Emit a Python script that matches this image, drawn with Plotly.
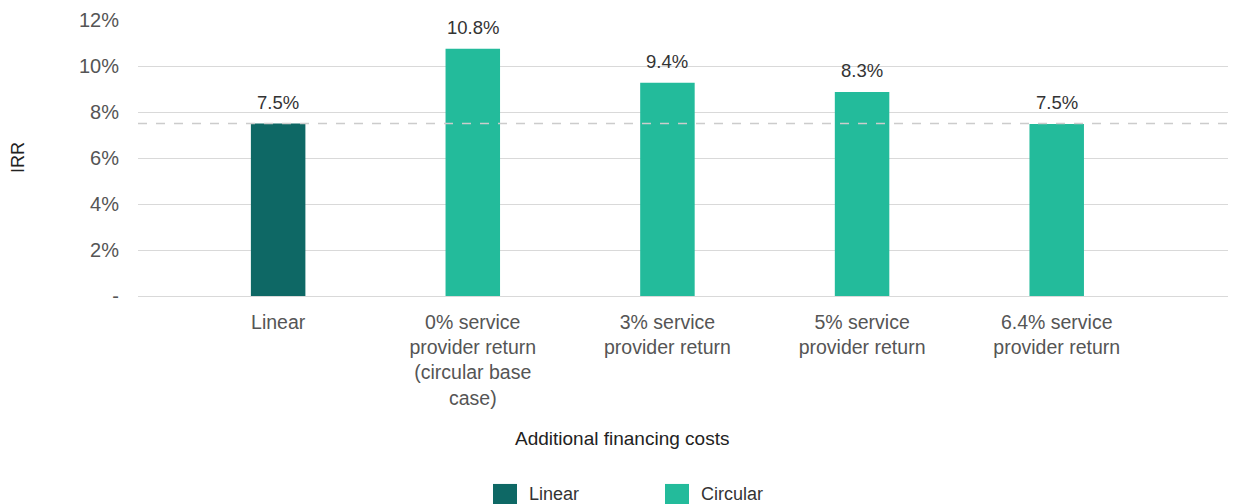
import plotly.graph_objects as go

# Data
categories = ["Linear",
              "0% service<br>provider return<br>(circular base<br>case)",
              "3% service<br>provider return",
              "5% service<br>provider return",
              "6.4% service<br>provider return"]
irr_values = [7.5, 10.75, 9.27, 8.87, 7.48]
irr_labels = ["7.5%", "10.8%", "9.4%", "8.3%", "7.5%"]
bar_groups = ["Linear", "Circular", "Circular", "Circular", "Circular"]
linear_baseline = 7.5

y_tickvals = [0, 2, 4, 6, 8, 10, 12]
y_ticktext = ["-", "2%", "4%", "6%", "8%", "10%", "12%"]

colors = {"Linear": "#0e6865", "Circular": "#23bb9b"}
FONT = "Liberation Sans, Arial, Helvetica, sans-serif"

fig = go.Figure()
fig.add_trace(go.Bar(
    x=list(range(len(categories))),
    y=irr_values,
    marker=dict(color=[colors[g] for g in bar_groups], line=dict(width=0)),
    width=0.28,
    showlegend=False,
    hoverinfo="y",
))

# value labels above bars
for i, (v, lab) in enumerate(zip(irr_values, irr_labels)):
    fig.add_annotation(x=i, y=v, text=lab, showarrow=False,
                       yanchor="bottom", yshift=9,
                       font=dict(size=18.5, color="#333333", family=FONT))

# linear baseline reference line
fig.add_shape(type="line", xref="paper", x0=0, x1=1, y0=linear_baseline, y1=linear_baseline,
              line=dict(color="#cccccc", width=1.5, dash="dash"), layer="above")

# axis titles
fig.add_annotation(xref="paper", yref="paper", x=0.444, y=-0.5145,
                   xanchor="center", yanchor="middle",
                   text="Additional financing costs", showarrow=False,
                   font=dict(size=19, color="#222222", family=FONT))
fig.add_annotation(xref="paper", yref="paper", x=-0.110, y=0.5,
                   xanchor="center", yanchor="middle",
                   text="IRR", textangle=-90, showarrow=False,
                   font=dict(size=18, color="#222222", family=FONT))

# custom legend
legend_items = [("Linear", 0.3257), ("Circular", 0.4835)]
for name, x0 in legend_items:
    fig.add_shape(type="rect", xref="paper", yref="paper",
                  x0=x0, x1=x0 + 0.022, y0=-0.681, y1=-0.77,
                  fillcolor=colors[name], line=dict(width=0))
    fig.add_annotation(xref="paper", yref="paper", x=x0 + 0.031, y=-0.717,
                       xanchor="left", yanchor="middle", text=name, showarrow=False,
                       font=dict(size=18, color="#333333", family=FONT))

# margins compensate for the 8px default page margin
fig.update_layout(
    width=1245, height=504,
    margin=dict(l=130, r=25, t=12, b=216),
    plot_bgcolor="white", paper_bgcolor="white",
    font=dict(family=FONT),
)
fig.update_xaxes(
    tickvals=list(range(len(categories))), ticktext=categories,
    range=[-0.72, 4.88],
    showgrid=False, zeroline=False, automargin=False,
    tickfont=dict(size=19.5, color="#555555", family=FONT),
    ticklabelstandoff=12,
)
fig.update_yaxes(
    range=[0, 12], tickvals=y_tickvals, ticktext=y_ticktext,
    showgrid=True, gridcolor="#d9d9d9", gridwidth=1,
    zeroline=True, zerolinecolor="#d9d9d9", zerolinewidth=1,
    automargin=False,
    tickfont=dict(size=20, color="#555555", family=FONT),
    ticklabelstandoff=18,
)

fig.write_html("out.html")
